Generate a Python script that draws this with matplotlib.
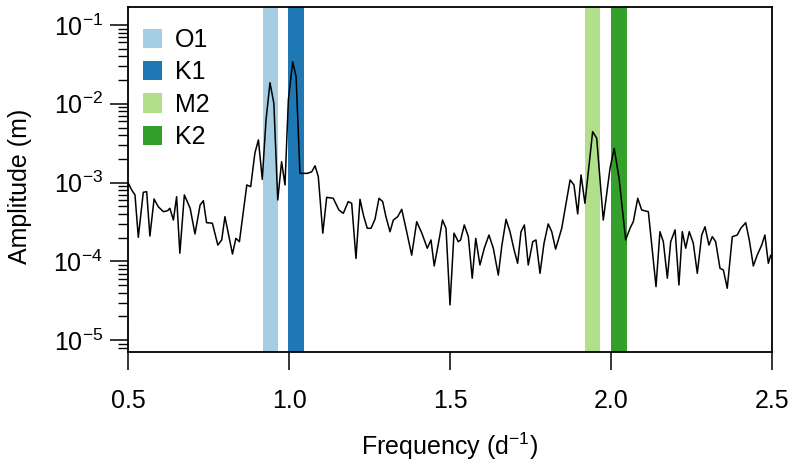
import matplotlib
matplotlib.use("Agg")
import matplotlib.pyplot as plt
from matplotlib.patches import Patch
from matplotlib.ticker import LogLocator, FixedLocator, FormatStrFormatter, NullFormatter

plt.rcParams['font.family'] = ['Liberation Sans', 'DejaVu Sans']
plt.rcParams['mathtext.fontset'] = 'custom'
plt.rcParams['mathtext.rm'] = 'Liberation Sans'
plt.rcParams['mathtext.it'] = 'Liberation Sans:italic'
plt.rcParams['mathtext.bf'] = 'Liberation Sans:bold'
plt.rcParams['mathtext.default'] = 'regular'

# ---- data ----
freq = [0.500, 0.5115, 0.5217, 0.532, 0.5475, 0.558, 0.568, 0.581, 0.594, 0.610,
        0.623, 0.630, 0.641, 0.651, 0.661, 0.675, 0.693, 0.708, 0.724, 0.734,
        0.744, 0.762, 0.779, 0.791, 0.801, 0.8245, 0.835, 0.846, 0.869, 0.881,
        0.894, 0.905, 0.917, 0.9286, 0.941, 0.953, 0.965, 0.977, 0.9876, 0.998,
        1.0115, 1.022, 1.034, 1.057, 1.0705, 1.081, 1.091, 1.105, 1.117, 1.1375,
        1.155, 1.1686, 1.184, 1.1947, 1.208, 1.2205, 1.231, 1.243, 1.2547, 1.267,
        1.2795, 1.291, 1.301, 1.3137, 1.324, 1.3376, 1.350, 1.3655, 1.381, 1.3966,
        1.412, 1.4295, 1.441, 1.451, 1.466, 1.4767, 1.4876, 1.500, 1.5124, 1.5258,
        1.533, 1.5444, 1.557, 1.569, 1.580, 1.593, 1.6065, 1.621, 1.6345, 1.650,
        1.6606, 1.674, 1.6863, 1.699, 1.710, 1.7205, 1.731, 1.743, 1.757, 1.767,
        1.7795, 1.792, 1.805, 1.816, 1.828, 1.847, 1.873, 1.885, 1.8966, 1.907,
        1.919, 1.943, 1.9556, 1.976, 1.997, 2.010, 2.025, 2.0456, 2.059, 2.0693,
        2.083, 2.0953, 2.116, 2.1398, 2.152, 2.1625, 2.175, 2.1854, 2.199, 2.211,
        2.2214, 2.232, 2.243, 2.2556, 2.268, 2.2817, 2.292, 2.304, 2.3146, 2.325,
        2.3385, 2.349, 2.361, 2.3767, 2.392, 2.403, 2.4183, 2.4295, 2.442, 2.454,
        2.468, 2.478, 2.4886, 2.496, 2.500]

amplitude = [1.00e-3, 8.05e-4, 6.97e-4, 2.02e-4, 7.53e-4, 7.67e-4, 2.10e-4, 6.19e-4, 4.94e-4, 4.27e-4,
             4.40e-4, 4.72e-4, 3.35e-4, 6.62e-4, 1.27e-4, 6.97e-4, 4.72e-4, 2.23e-4, 5.20e-4, 5.89e-4,
             3.10e-4, 3.05e-4, 1.61e-4, 1.87e-4, 3.69e-4, 1.24e-4, 1.96e-4, 1.78e-4, 9.33e-4, 8.88e-4,
             2.36e-3, 3.48e-3, 1.10e-3, 6.22e-3, 1.85e-2, 1.01e-2, 6.01e-4, 1.84e-3, 9.33e-4, 1.12e-2,
             3.42e-2, 2.21e-2, 1.31e-3, 1.31e-3, 1.37e-3, 1.63e-3, 1.19e-3, 2.28e-4, 6.50e-4, 6.32e-4,
             4.49e-4, 4.07e-4, 5.73e-4, 5.46e-4, 1.09e-4, 6.14e-4, 3.88e-4, 2.63e-4, 2.63e-4, 3.42e-4,
             6.32e-4, 5.73e-4, 3.69e-4, 2.38e-4, 3.35e-4, 3.69e-4, 4.58e-4, 2.38e-4, 1.20e-4, 3.19e-4,
             2.31e-4, 1.47e-4, 1.87e-4, 8.75e-5, 1.87e-4, 3.35e-4, 2.63e-4, 2.80e-5, 2.28e-4, 1.78e-4,
             1.87e-4, 2.90e-4, 2.06e-4, 6.11e-5, 1.96e-4, 9.00e-5, 1.47e-4, 2.16e-4, 1.47e-4, 6.71e-5,
             1.54e-4, 3.42e-4, 2.38e-4, 1.40e-4, 9.46e-5, 2.38e-4, 2.90e-4, 9.00e-5, 1.78e-4, 1.87e-4,
             7.06e-5, 1.70e-4, 2.99e-4, 2.38e-4, 1.43e-4, 2.63e-4, 1.08e-3, 9.33e-4, 4.00e-4, 1.25e-3,
             5.46e-4, 4.43e-3, 3.65e-3, 3.35e-4, 1.52e-3, 2.72e-3, 1.14e-3, 1.87e-4, 2.63e-4, 3.19e-4,
             6.32e-4, 4.49e-4, 4.27e-4, 4.78e-5, 2.38e-4, 1.78e-4, 6.11e-5, 1.78e-4, 2.51e-4, 5.02e-5,
             2.38e-4, 1.47e-4, 2.38e-4, 1.70e-4, 7.06e-5, 2.16e-4, 2.75e-4, 1.61e-4, 2.06e-4, 1.78e-4,
             8.17e-5, 7.78e-5, 4.56e-5, 2.06e-4, 2.16e-4, 2.63e-4, 3.10e-4, 1.87e-4, 8.75e-5, 1.20e-4,
             1.61e-4, 2.16e-4, 9.46e-5, 1.20e-4, 1.10e-4]

constituents = ['O1', 'K1', 'M2', 'K2']
band_start = [0.919, 0.997, 1.919, 2.000]
band_end = [0.966, 1.047, 1.966, 2.050]
band_colors = ['#a6cee3', '#1f78b4', '#b2df8a', '#33a02c']
x_ticks = [0.5, 1.0, 1.5, 2.0, 2.5]

# ---- figure ----
fig = plt.figure(figsize=(8.07, 4.61), dpi=100)
ax = fig.add_axes([128 / 807, 1 - 352 / 461, 644 / 807, 344.5 / 461])

for lo, hi, c in zip(band_start, band_end, band_colors):
    ax.axvspan(lo, hi, color=c, lw=0, zorder=1)

ax.plot(freq, amplitude, color='black', lw=1.1, zorder=3)

ax.set_yscale('log')
ax.set_xlim(0.5, 2.5)
ax.set_ylim(7.08e-6, 0.1667)

ax.xaxis.set_major_locator(FixedLocator(x_ticks))
ax.xaxis.set_major_formatter(FormatStrFormatter('%.1f'))
ax.yaxis.set_major_locator(LogLocator(base=10, numticks=10))
ax.yaxis.set_minor_locator(LogLocator(base=10, subs=range(2, 10), numticks=20))
ax.yaxis.set_minor_formatter(NullFormatter())

for s in ax.spines.values():
    s.set_linewidth(1.3)
    s.set_color('black')

ax.tick_params(axis='x', which='major', length=13, width=1.1, pad=14, labelsize=18, colors='black')
ax.tick_params(axis='y', which='major', length=13, width=1.1, pad=5, labelsize=18, colors='black')
ax.tick_params(axis='y', which='minor', length=7, width=1.0)

ax.set_xlabel('Frequency (d$^{-1}$)', fontsize=18)
ax.set_ylabel('Amplitude (m)', fontsize=18)
ax.xaxis.set_label_coords(0.5, -0.229)
ax.yaxis.set_label_coords(-0.149, 0.48)

handles = [Patch(facecolor=c, edgecolor='none') for c in band_colors]
ax.legend(handles, constituents, loc='upper left', bbox_to_anchor=(0.0233, 0.940),
          frameon=False, fontsize=18, handlelength=0.76, handleheight=0.8,
          handletextpad=0.52, labelspacing=0.33, borderaxespad=0, borderpad=0)

fig.savefig('out.png', dpi=100)
